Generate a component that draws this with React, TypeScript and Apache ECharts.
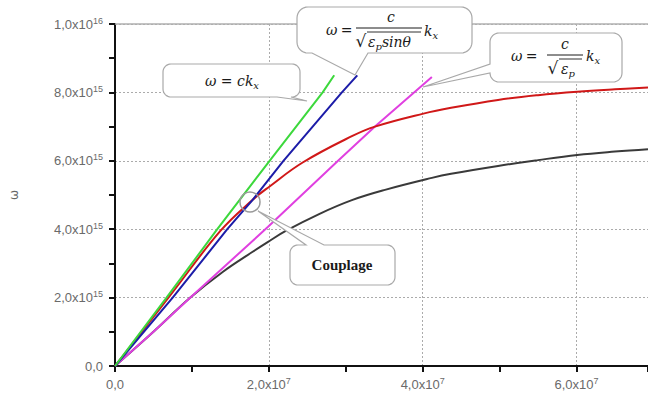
import React, { useEffect, useRef } from "react";
import * as echarts from "echarts";

// Units: wave number k in 1e6 m^-1, angular frequency ω in 1e15 rad/s
const K_UNIT = 1e6;
const W_UNIT = 1e15;

const greenK = [0, 6.7, 13.3, 18.2, 20.1, 27.0, 28.5];
const greenW = [0, 2.0, 4.0, 5.44, 6.0, 8.0, 8.5];
const blueK = [0, 7.5, 14.6, 17.9, 21.9, 29.5, 31.5];
const blueW = [0, 2.0, 4.0, 4.86, 6.0, 8.0, 8.5];
const magentaK = [0, 5, 9.8, 19.9, 29.0, 33.8, 41.2];
const magentaW = [0, 1.0, 2.0, 4.07, 6.0, 7.0, 8.45];
const redK = [0, 7.3, 13.7, 17.9, 20.1, 24.4, 30.8, 33.8, 40.1, 43.7, 49.8, 55, 60.1, 65, 69.3];
const redW = [0, 2.1, 3.95, 4.86, 5.25, 5.95, 6.72, 7.0, 7.38, 7.55, 7.78, 7.92, 8.02, 8.09, 8.14];
const blackK = [0, 5, 9.8, 14, 17.9, 19.9, 22.2, 26.6, 30.8, 35.1, 41.2, 43.7, 49.8, 55, 60.1, 65, 69.3];
const blackW = [0, 1.0, 2.0, 2.75, 3.34, 3.63, 3.95, 4.45, 4.85, 5.15, 5.5, 5.62, 5.85, 6.02, 6.17, 6.27, 6.34];

const xMin = 0;
const xMax = 69.3e6;
const xInterval = 2e7;
const yMin = 0;
const yMax = 1e16;
const yInterval = 2e15;

const toPairs = (k: number[], w: number[]) => k.map((v, i) => [v * K_UNIT, w[i] * W_UNIT]);

function fmtSci(v: number): string {
  if (v === 0) return "{a|0,0}";
  const e = Math.floor(Math.log10(v) + 1e-9);
  const m = v / Math.pow(10, e);
  if (Math.abs(m - Math.round(m)) > 1e-6) return "";
  return `{a|${m.toFixed(1).replace(".", ",")}x10}{s|${e}}`;
}

type Tail = { edge: "top" | "bottom" | "left" | "right"; a: number; b: number; tip: [number, number] };

function bubble(x: number, y: number, w: number, h: number, r: number, tail: Tail): number[][] {
  const pts: number[][] = [];
  const arc = (cx: number, cy: number, a0: number, a1: number) => {
    const n = 8;
    for (let i = 0; i <= n; i++) {
      const t = a0 + ((a1 - a0) * i) / n;
      pts.push([cx + r * Math.cos(t), cy + r * Math.sin(t)]);
    }
  };
  pts.push([x + r, y]);
  if (tail.edge === "top") {
    pts.push([tail.a, y], tail.tip, [tail.b, y]);
  }
  arc(x + w - r, y + r, -Math.PI / 2, 0);
  if (tail.edge === "right") {
    pts.push([x + w, tail.a], tail.tip, [x + w, tail.b]);
  }
  arc(x + w - r, y + h - r, 0, Math.PI / 2);
  if (tail.edge === "bottom") {
    pts.push([tail.b, y + h], tail.tip, [tail.a, y + h]);
  }
  arc(x + r, y + h - r, Math.PI / 2, Math.PI);
  if (tail.edge === "left") {
    pts.push([x, tail.b], tail.tip, [x, tail.a]);
  }
  arc(x + r, y + r, Math.PI, (3 * Math.PI) / 2);
  return pts;
}

const bubbleStyle = { fill: "#ffffff", stroke: "#a9a9a9", lineWidth: 1.2 };
const mathFont = "'DejaVu Serif', 'Liberation Serif', serif";
const mathRich = {
  i: { fontFamily: mathFont, fontStyle: "italic", fontSize: 14, lineHeight: 18, fill: "#1a1a1a", color: "#1a1a1a" },
  n: { fontFamily: mathFont, fontSize: 14, lineHeight: 18, fill: "#1a1a1a", color: "#1a1a1a" },
  sub: {
    fontFamily: mathFont,
    fontStyle: "italic",
    fontSize: 10,
    lineHeight: 10,
    verticalAlign: "bottom",
    fill: "#1a1a1a",
    color: "#1a1a1a",
  },
};

function mathText(x: number, y: number, text: string, align = "left") {
  return {
    type: "text",
    x,
    y,
    z: 110,
    style: {
      text,
      rich: mathRich,
      align,
      textAlign: align,
      verticalAlign: "middle",
      textVerticalAlign: "middle",
      fill: "#1a1a1a",
    },
  };
}

function hLine(x1: number, x2: number, y: number, w = 1) {
  return {
    type: "line",
    z: 110,
    shape: { x1, y1: y, x2, y2: y },
    style: { stroke: "#1a1a1a", lineWidth: w },
  };
}

function plainText(x: number, y: number, text: string, size: number, extra: any = {}) {
  return {
    type: "text",
    x,
    y,
    z: 110,
    style: {
      text,
      fontFamily: mathFont,
      fontSize: size,
      fill: "#1a1a1a",
      align: "center",
      textAlign: "center",
      verticalAlign: "middle",
      textVerticalAlign: "middle",
      ...extra,
    },
  };
}

export default function App() {
  const ref = useRef<HTMLDivElement>(null);

  useEffect(() => {
    if (!ref.current) return;
    const chart = echarts.init(ref.current, undefined, { renderer: "svg" });

    const axisLabelRich = {
      a: { fontFamily: "'Liberation Sans', Arial, sans-serif", fontSize: 13, lineHeight: 16, color: "#6a6a6a" },
      s: {
        fontFamily: "'Liberation Sans', Arial, sans-serif",
        fontSize: 9,
        lineHeight: 8,
        verticalAlign: "top",
        color: "#6a6a6a",
      },
    };

    const splitLineStyle = { color: "#ababab", width: 1, type: [2, 2] };

    const graphics: any[] = [
      {
        type: "polygon",
        z: 100,
        shape: { points: bubble(163, 64, 137, 33, 8, { edge: "bottom", a: 277, b: 291, tip: [307, 101] }) },
        style: bubbleStyle,
      },
      mathText(232, 81, "{i|ω = ck}{sub|x}", "center"),

      {
        type: "polygon",
        z: 100,
        shape: { points: bubble(297, 7, 175, 46, 11, { edge: "bottom", a: 312, b: 368, tip: [355, 75] }) },
        style: bubbleStyle,
      },
      mathText(326, 30, "{i|ω} {n|=}"),
      mathText(391, 17, "{i|c}", "center"),
      hLine(356, 422, 28),
      plainText(361, 41, "√", 17),
      hLine(367, 421, 32, 0.9),
      mathText(368, 42, "{i|ε}{sub|p}{i|sinθ}"),
      mathText(424, 31, "{i|k}{sub|x}"),

      {
        type: "polygon",
        z: 100,
        shape: { points: bubble(490, 33, 132, 49, 9, { edge: "left", a: 64, b: 73, tip: [423, 87] }) },
        style: bubbleStyle,
      },
      mathText(511, 56, "{i|ω} {n|=}"),
      mathText(565, 44, "{i|c}", "center"),
      hLine(547, 583, 55),
      plainText(553, 68, "√", 17),
      hLine(559, 582, 59, 0.9),
      mathText(561, 69, "{i|ε}{sub|p}"),
      mathText(586, 56, "{i|k}{sub|x}"),

      {
        type: "circle",
        z: 100,
        shape: { cx: 250, cy: 202, r: 10 },
        style: { fill: "none", stroke: "#9a9a9a", lineWidth: 1.5 },
      },
      {
        type: "polygon",
        z: 100,
        shape: { points: bubble(290, 245, 105, 40, 8, { edge: "top", a: 306, b: 324, tip: [258, 211] }) },
        style: bubbleStyle,
      },
      plainText(342, 265, "Couplage", 15, { fontWeight: "bold", fontFamily: "'Liberation Serif', 'DejaVu Serif', serif" }),
    ];

    chart.setOption({
      animation: false,
      backgroundColor: "#ffffff",
      grid: { left: 111, right: 0, top: 24, bottom: 33, containLabel: false },
      xAxis: [
        {
          type: "value",
          min: xMin,
          max: xMax,
          interval: xInterval,
          axisLine: { show: true, onZero: false, lineStyle: { color: "#111", width: 2 } },
          axisTick: { show: true, inside: false, length: 6, lineStyle: { color: "#111", width: 2 } },
          minorTick: { show: true, splitNumber: 2, length: 6, lineStyle: { color: "#111", width: 2 } },
          splitLine: { show: true, lineStyle: splitLineStyle },
          axisLabel: {
            margin: 10,
            showMaxLabel: false,
            formatter: (v: number) => fmtSci(v),
            rich: axisLabelRich,
          },
        },
        {
          type: "value",
          position: "top",
          min: xMin,
          max: xMax,
          interval: xInterval,
          axisLine: { show: true, onZero: false, lineStyle: { color: "#b0b0b0", width: 1.5 } },
          axisTick: { show: false },
          axisLabel: { show: false },
          splitLine: { show: false },
        },
      ],
      yAxis: {
        type: "value",
        min: yMin,
        max: yMax,
        interval: yInterval,
        name: "ω",
        nameLocation: "middle",
        nameRotate: 90,
        nameGap: 95,
        nameTextStyle: { fontFamily: "'DejaVu Sans', sans-serif", fontSize: 12, color: "#666" },
        axisLine: { show: true, onZero: false, lineStyle: { color: "#111", width: 2 } },
        axisTick: { show: true, inside: false, length: 6, lineStyle: { color: "#111", width: 2 } },
        minorTick: { show: true, splitNumber: 2, length: 6, lineStyle: { color: "#111", width: 2 } },
        splitLine: { show: true, lineStyle: splitLineStyle },
        axisLabel: {
          margin: 12,
          formatter: (v: number) => (v >= yMax - 1 ? fmtSci(yMax) : fmtSci(v)),
          rich: axisLabelRich,
        },
      },
      series: [
        {
          type: "line",
          name: "black",
          data: toPairs(blackK, blackW),
          showSymbol: false,
          smooth: 0.4,
          lineStyle: { color: "#3a3a3a", width: 2 },
          z: 2,
        },
        {
          type: "line",
          name: "magenta",
          data: toPairs(magentaK, magentaW),
          showSymbol: false,
          lineStyle: { color: "#e040e0", width: 2 },
          z: 3,
        },
        {
          type: "line",
          name: "red",
          data: toPairs(redK, redW),
          showSymbol: false,
          smooth: 0.4,
          lineStyle: { color: "#d01818", width: 2 },
          z: 4,
        },
        {
          type: "line",
          name: "blue",
          data: toPairs(blueK, blueW),
          showSymbol: false,
          lineStyle: { color: "#1c1ca8", width: 2 },
          z: 5,
        },
        {
          type: "line",
          name: "green",
          data: toPairs(greenK, greenW),
          showSymbol: false,
          lineStyle: { color: "#3cd83c", width: 2 },
          z: 6,
        },
      ],
      graphic: graphics,
    });

    return () => chart.dispose();
  }, []);

  return (
    <div
      ref={ref}
      style={{ position: "absolute", left: 0, top: 0, width: 648, height: 399, background: "#fff" }}
    />
  );
}
